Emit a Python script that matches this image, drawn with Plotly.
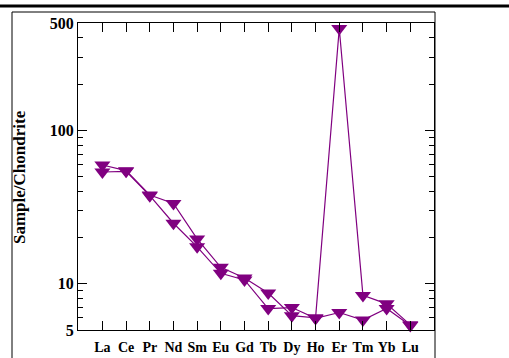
import plotly.graph_objects as go

elements = ["La", "Ce", "Pr", "Nd", "Sm", "Eu", "Gd", "Tb", "Dy", "Ho", "Er", "Tm", "Yb", "Lu"]
sample_a = [59.4, 54.6, 37.9, 33.4, 19.6, 12.8, 10.9, 8.7, 6.2, 6.0, 460, 8.4, 7.4, 5.4]
sample_b = [53.5, 54.0, 37.5, 24.8, 17.4, 11.7, 10.6, 6.9, 7.0, 5.95, 6.5, 5.8, 6.9, 5.35]
y_major = [5, 10, 100, 500]
y_minor = [6, 7, 8, 9, 20, 30, 40, 50, 60, 70, 80, 90, 200, 300, 400]

PURPLE = "#800080"
FONT = "Liberation Serif"

fig = go.Figure()
for s in (sample_a, sample_b):
    fig.add_trace(go.Scatter(
        x=elements, y=s, mode="lines+markers",
        line=dict(color=PURPLE, width=1.2),
        marker=dict(symbol="triangle-down", size=14, color=PURPLE, line=dict(width=0)),
        showlegend=False, cliponaxis=False,
    ))

W, H = 509, 358
L, R, T, B = 78, 75, 23, 28
pw, ph = W - L - R, H - T - B

def px_x(px):
    return (px - L) / pw

def px_y(py):
    return (H - B - py) / ph

fig.update_layout(
    width=W, height=H,
    margin=dict(l=L, r=R, t=T, b=B, autoexpand=False),
    paper_bgcolor="white", plot_bgcolor="white",
    font=dict(family=FONT, color="black"),
    xaxis=dict(
        type="category", categoryorder="array", categoryarray=elements,
        range=[-1.03, 14.0], automargin=False,
        showline=True, linecolor="black", linewidth=1, mirror="ticks",
        ticks="inside", ticklen=9, tickcolor="black", tickwidth=1,
        showgrid=False, zeroline=False,
        ticklabelstandoff=4,
        tickfont=dict(family=FONT, size=14, weight="bold", color="black"),
    ),
    yaxis=dict(
        type="log", range=[0.69897, 2.69897], automargin=False,
        tickmode="array", tickvals=y_major, ticktext=[str(v) for v in y_major],
        showline=True, linecolor="black", linewidth=1, mirror="ticks",
        ticks="inside", ticklen=9, tickcolor="black", tickwidth=1,
        showgrid=False, zeroline=False,
        tickfont=dict(family=FONT, size=16, weight="bold", color="black"),
        minor=dict(tickmode="array", tickvals=y_minor, ticks="inside", ticklen=5,
                   tickcolor="black", tickwidth=1, showgrid=False),
    ),
    shapes=[
        dict(type="line", xref="paper", yref="paper",
             x0=px_x(0), x1=px_x(W), y0=px_y(6), y1=px_y(6),
             line=dict(color="black", width=3)),
        dict(type="rect", xref="paper", yref="paper",
             x0=px_x(12), x1=px_x(435), y0=px_y(12), y1=px_y(370),
             line=dict(color="black", width=1)),
    ],
    annotations=[
        dict(text="Sample/Chondrite", textangle=-90, xref="paper", yref="paper",
             x=px_x(19), y=px_y(177), xanchor="center", yanchor="middle",
             showarrow=False,
             font=dict(family=FONT, size=17, weight="bold", color="black")),
    ],
)

fig.write_html("out.html")
